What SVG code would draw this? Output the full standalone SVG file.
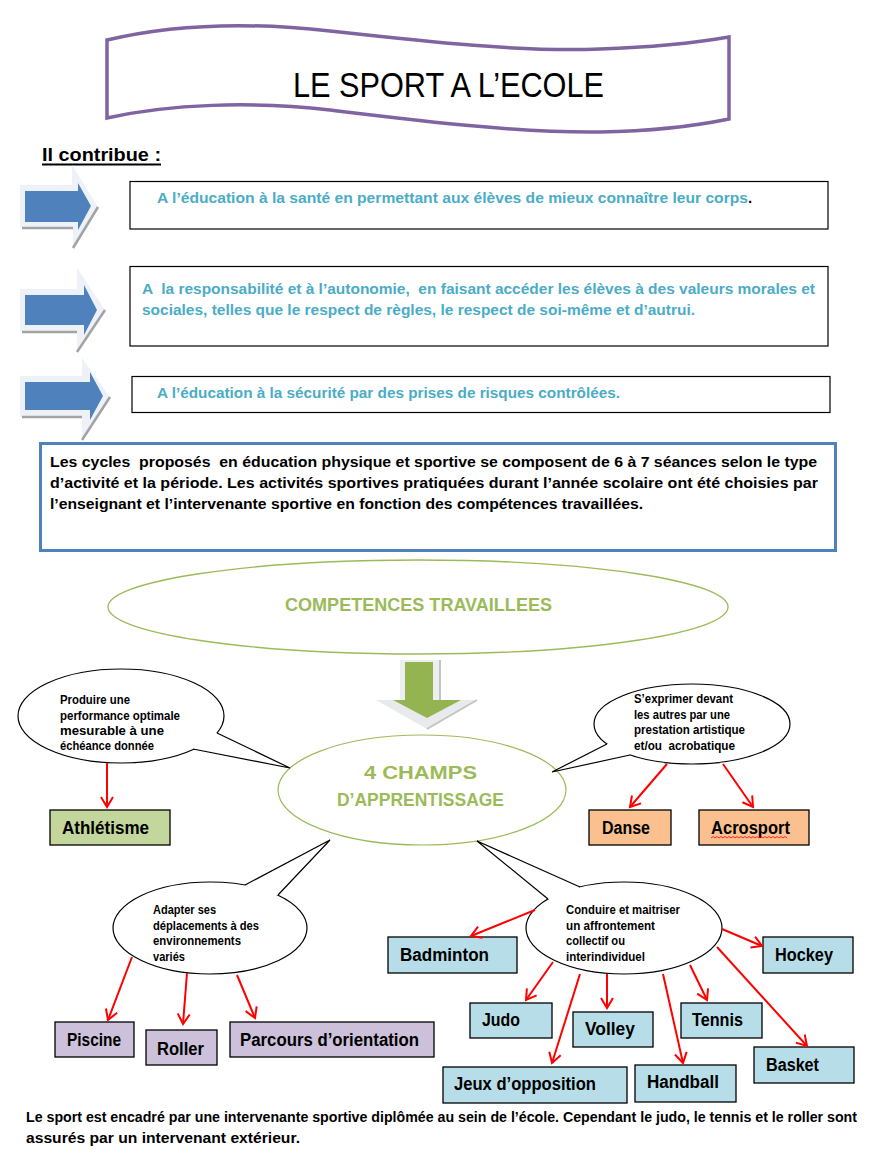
<svg xmlns="http://www.w3.org/2000/svg" width="872" height="1164" viewBox="0 0 872 1164">
<style>
text{font-family:"Liberation Sans",Arial,sans-serif;font-weight:bold;}
.teal{fill:#4bacc6;font-size:15px;}
.blk{fill:#000;font-size:15px;}
.bub{fill:#000;font-size:12.5px;}
.lbl{fill:#000;font-size:18px;}
.grn{fill:#9bbb59;font-size:19px;}
.box{fill:#fff;stroke:#000;stroke-width:1.2;}
.nb{stroke:#000;stroke-width:1.3;}
.bl{fill:#b7dee8;}
.pu{fill:#ccc0da;}
.pe{fill:#fac090;}
.gr{fill:#c3d69b;}
.bk{fill:#eef2f8;}
.sh{fill:none;stroke:#a3a3a3;stroke-width:2.5;}
.ba{fill:#4f81bd;}
.bubw{fill:#fff;stroke:#000;stroke-width:1.2;}
.red{fill:none;stroke:#ff0000;stroke-width:2;marker-end:url(#ah);}
</style>
<defs>
<marker id="ah" markerUnits="userSpaceOnUse" markerWidth="16" markerHeight="16" refX="11" refY="7" orient="auto" viewBox="0 0 16 14">
<path d="M1,1 L11,7 L1,13" fill="none" stroke="#ff0000" stroke-width="2"/>
</marker>
</defs>
<rect width="872" height="1164" fill="#fff"/>

<g id="title">
<path d="M107,40 C170,25 240,21 330,31 C430,42 520,52 600,49 C660,47 700,42 729,37 L729,119 C700,125 660,131 600,132 C520,133 430,122 330,110 C250,101 170,104 107,118 Z" fill="#fff" stroke="#8064a2" stroke-width="3.5"/>
<text x="293" y="97" style="font-weight:normal;font-size:35px" fill="#000" textLength="311" lengthAdjust="spacingAndGlyphs">LE SPORT A L’ECOLE</text>
</g>

<g id="contribue">
<text x="42" y="161" style="font-size:19px" fill="#000" textLength="119" lengthAdjust="spacingAndGlyphs">Il contribue :</text>
<line x1="42" y1="164.5" x2="161" y2="164.5" stroke="#000" stroke-width="1.8"/>
</g>

<g id="arrow1">
<polygon class="bk" points="20,185 72,185 72,165 98,207 73,248 73,228 20,228"/>
<path class="sh" d="M22,228 L73,228 M98,207 L73,248"/>
<polygon class="ba" points="25,191 78,191 78,183 91,206 78,230 78,222 25,222"/>
</g>
<g id="arrow2">
<polygon class="bk" points="20,289 77,289 77,268 105,310 77,352 77,332 20,332"/>
<path class="sh" d="M22,332 L77,332 M105,310 L77,352"/>
<polygon class="ba" points="25,295 84,295 84,285 97,310 84,335 84,325 25,325"/>
</g>
<g id="arrow3">
<polygon class="bk" points="20,376 82,376 82,358 110,397 82,440 82,417 20,417"/>
<path class="sh" d="M22,417 L82,417 M110,397 L82,440"/>
<polygon class="ba" points="25,382 90,382 90,372 103,396 90,420 90,410 25,410"/>
</g>

<g id="box1">
<rect class="box" x="130" y="181.5" width="698" height="47.5"/>
<text class="teal" x="157" y="203" textLength="591" lengthAdjust="spacingAndGlyphs">A l’éducation à la santé en permettant aux élèves de mieux connaître leur corps</text>
<text class="blk" x="748" y="203">.</text>
</g>
<g id="box2">
<rect class="box" x="130" y="266.5" width="698" height="79.5"/>
<text class="teal" x="142" y="294" xml:space="preserve" textLength="673" lengthAdjust="spacingAndGlyphs">A  la responsabilité et à l’autonomie,  en faisant accéder les élèves à des valeurs morales et</text>
<text class="teal" x="142" y="315" textLength="553" lengthAdjust="spacingAndGlyphs">sociales, telles que le respect de règles, le respect de soi-même et d’autrui.</text>
</g>
<g id="box3">
<rect class="box" x="132" y="376.5" width="698" height="36"/>
<text class="teal" x="157" y="398" textLength="463" lengthAdjust="spacingAndGlyphs">A l’éducation à la sécurité par des prises de risques contrôlées.</text>
</g>
<g id="box4">
<rect x="40.5" y="443.5" width="795" height="107" fill="#fff" stroke="#4f81bd" stroke-width="3"/>
<text class="blk" x="50" y="467" xml:space="preserve" textLength="767" lengthAdjust="spacingAndGlyphs">Les cycles  proposés  en éducation physique et sportive se composent de 6 à 7 séances selon le type</text>
<text class="blk" x="50" y="488" textLength="768" lengthAdjust="spacingAndGlyphs">d’activité et la période. Les activités sportives pratiquées durant l’année scolaire ont été choisies par</text>
<text class="blk" x="50" y="509" textLength="593" lengthAdjust="spacingAndGlyphs">l’enseignant et l’intervenante sportive en fonction des compétences travaillées.</text>
</g>

<g id="competences">
<ellipse cx="418" cy="607" rx="310" ry="47" fill="#fff" stroke="#9bbb59" stroke-width="1.3"/>
<text class="grn" x="285" y="611" textLength="267" lengthAdjust="spacingAndGlyphs">COMPETENCES TRAVAILLEES</text>
</g>

<g id="downarrow">
<rect x="400" y="660" width="40" height="42" fill="#eceff1"/>
<polygon points="376,700 477,700 427,729" fill="#e8eaec"/>
<path d="M440,660 L440,700 M477,700 L427,729" fill="none" stroke="#c4c4c4" stroke-width="2"/>
<rect x="405" y="662" width="28" height="40" fill="#93b451"/>
<polygon points="393,700 461,700 427,718" fill="#93b451"/>
</g>

<g id="champs">
<ellipse cx="422" cy="790" rx="144" ry="55" fill="#fff" stroke="#9bbb59" stroke-width="1.2"/>
<text class="grn" x="364" y="779" textLength="113" lengthAdjust="spacingAndGlyphs">4 CHAMPS</text>
<text class="grn" x="337" y="806" textLength="167" lengthAdjust="spacingAndGlyphs">D’APPRENTISSAGE</text>
</g>

<g id="bubble1">
<ellipse class="bubw" cx="121" cy="716" rx="103" ry="47"/>
<polygon points="217,733 290,768 193,749 200,735" fill="#fff"/>
<polyline points="217,733 290,768 193,749" fill="none" stroke="#000" stroke-width="1.2"/>
<text class="bub" x="60" y="704" textLength="70" lengthAdjust="spacingAndGlyphs">Produire une</text>
<text class="bub" x="60" y="720" textLength="120" lengthAdjust="spacingAndGlyphs">performance optimale</text>
<text class="bub" x="60" y="735" textLength="104" lengthAdjust="spacingAndGlyphs">mesurable à une</text>
<text class="bub" x="60" y="750" textLength="94" lengthAdjust="spacingAndGlyphs">échéance donnée</text>
</g>

<g id="bubble2">
<ellipse class="bubw" cx="692" cy="724" rx="98" ry="40"/>
<polygon points="607,744 552,772 630,755 625,742" fill="#fff"/>
<polyline points="607,744 552,772 630,755" fill="none" stroke="#000" stroke-width="1.2"/>
<text class="bub" x="634" y="703" textLength="99" lengthAdjust="spacingAndGlyphs">S’exprimer devant</text>
<text class="bub" x="634" y="719" textLength="96" lengthAdjust="spacingAndGlyphs">les autres par une</text>
<text class="bub" x="634" y="734" textLength="111" lengthAdjust="spacingAndGlyphs">prestation artistique</text>
<text class="bub" x="634" y="750" xml:space="preserve" textLength="101" lengthAdjust="spacingAndGlyphs">et/ou  acrobatique</text>
</g>

<g id="bubble3">
<ellipse class="bubw" cx="210" cy="928" rx="97" ry="46"/>
<polygon points="245,885 330,840 278,895 262,900" fill="#fff"/>
<polyline points="245,885 330,840 278,895" fill="none" stroke="#000" stroke-width="1.2"/>
<text class="bub" x="153" y="914" textLength="63" lengthAdjust="spacingAndGlyphs">Adapter ses</text>
<text class="bub" x="153" y="930" textLength="106" lengthAdjust="spacingAndGlyphs">déplacements à des</text>
<text class="bub" x="153" y="945" textLength="88" lengthAdjust="spacingAndGlyphs">environnements</text>
<text class="bub" x="153" y="961" textLength="32" lengthAdjust="spacingAndGlyphs">variés</text>
</g>

<g id="bubble4">
<ellipse class="bubw" cx="624" cy="928" rx="98" ry="46"/>
<polygon points="548,899 477,841 580,887 565,900" fill="#fff"/>
<polyline points="548,899 477,841 580,887" fill="none" stroke="#000" stroke-width="1.2"/>
<text class="bub" x="566" y="914" textLength="114" lengthAdjust="spacingAndGlyphs">Conduire et maitriser</text>
<text class="bub" x="566" y="930" textLength="89" lengthAdjust="spacingAndGlyphs">un affrontement</text>
<text class="bub" x="566" y="945" textLength="59" lengthAdjust="spacingAndGlyphs">collectif ou</text>
<text class="bub" x="566" y="961" textLength="79" lengthAdjust="spacingAndGlyphs">interindividuel</text>
</g>

<g id="athletisme"><rect class="gr nb" x="50" y="810" width="120" height="35"/><text class="lbl" x="62" y="834" textLength="87" lengthAdjust="spacingAndGlyphs">Athlétisme</text></g>
<g id="danse"><rect class="pe nb" x="589" y="810" width="82" height="35"/><text class="lbl" x="602" y="834" textLength="48" lengthAdjust="spacingAndGlyphs">Danse</text></g>
<g id="acrosport"><rect class="pe nb" x="699" y="810" width="110" height="35"/><text class="lbl" x="711" y="834" textLength="79" lengthAdjust="spacingAndGlyphs">Acrosport</text>
<path d="M711,838 l2,-1.5 l2,1.5 l2,-1.5 l2,1.5 l2,-1.5 l2,1.5 l2,-1.5 l2,1.5 l2,-1.5 l2,1.5 l2,-1.5 l2,1.5 l2,-1.5 l2,1.5 l2,-1.5 l2,1.5 l2,-1.5 l2,1.5 l2,-1.5 l2,1.5 l2,-1.5 l2,1.5 l2,-1.5 l2,1.5 l2,-1.5 l2,1.5 l2,-1.5 l2,1.5 l2,-1.5 l2,1.5 l2,-1.5 l2,1.5 l2,-1.5 l2,1.5 l2,-1.5 l2,1.5 l2,-1.5 l2,1.5" fill="none" stroke="#ff0000" stroke-width="0.8"/></g>
<g id="piscine"><rect class="pu nb" x="55" y="1022" width="79" height="35"/><text class="lbl" x="67" y="1046" textLength="54" lengthAdjust="spacingAndGlyphs">Piscine</text></g>
<g id="roller"><rect class="pu nb" x="146" y="1030" width="71" height="35"/><text class="lbl" x="157" y="1055" textLength="47" lengthAdjust="spacingAndGlyphs">Roller</text></g>
<g id="parcours"><rect class="pu nb" x="230" y="1022" width="204" height="35"/><text class="lbl" x="240" y="1046" textLength="179" lengthAdjust="spacingAndGlyphs">Parcours d’orientation</text></g>
<g id="badminton"><rect class="bl nb" x="388" y="937" width="129" height="36"/><text class="lbl" x="400" y="961" textLength="89" lengthAdjust="spacingAndGlyphs">Badminton</text></g>
<g id="hockey"><rect class="bl nb" x="763" y="937" width="90" height="36"/><text class="lbl" x="775" y="961" textLength="58" lengthAdjust="spacingAndGlyphs">Hockey</text></g>
<g id="judo"><rect class="bl nb" x="470" y="1003" width="82" height="35"/><text class="lbl" x="482" y="1026" textLength="38" lengthAdjust="spacingAndGlyphs">Judo</text></g>
<g id="volley"><rect class="bl nb" x="573" y="1012" width="80" height="35"/><text class="lbl" x="585" y="1035" textLength="50" lengthAdjust="spacingAndGlyphs">Volley</text></g>
<g id="tennis"><rect class="bl nb" x="681" y="1003" width="81" height="35"/><text class="lbl" x="692" y="1026" textLength="51" lengthAdjust="spacingAndGlyphs">Tennis</text></g>
<g id="basket"><rect class="bl nb" x="754" y="1047" width="100" height="36"/><text class="lbl" x="766" y="1071" textLength="53" lengthAdjust="spacingAndGlyphs">Basket</text></g>
<g id="jeux"><rect class="bl nb" x="443" y="1067" width="184" height="36"/><text class="lbl" x="454" y="1090" textLength="142" lengthAdjust="spacingAndGlyphs">Jeux d’opposition</text></g>
<g id="handball"><rect class="bl nb" x="635" y="1065" width="101" height="37"/><text class="lbl" x="647" y="1088" textLength="72" lengthAdjust="spacingAndGlyphs">Handball</text></g>

<g id="connectors">
<line class="red" x1="107" y1="763" x2="107" y2="807"/>
<line class="red" x1="667" y1="764" x2="630" y2="807"/>
<line class="red" x1="723" y1="764" x2="753" y2="807"/>
<line class="red" x1="132" y1="957" x2="108" y2="1020"/>
<line class="red" x1="187" y1="973" x2="183" y2="1024"/>
<line class="red" x1="237" y1="975" x2="255" y2="1018"/>
<line class="red" x1="535" y1="910" x2="471" y2="936"/>
<line class="red" x1="553" y1="962" x2="526" y2="1000"/>
<line class="red" x1="580" y1="974" x2="552" y2="1063"/>
<line class="red" x1="607" y1="974" x2="607" y2="1008"/>
<line class="red" x1="663" y1="974" x2="683" y2="1063"/>
<line class="red" x1="690" y1="965" x2="707" y2="1000"/>
<line class="red" x1="717" y1="947" x2="807" y2="1046"/>
<line class="red" x1="722" y1="929" x2="762" y2="946"/>
</g>

<g id="footer">
<text class="blk" x="26" y="1122" style="font-size:14px" textLength="831" lengthAdjust="spacingAndGlyphs">Le sport est encadré par une intervenante sportive diplômée au sein de l’école. Cependant le judo, le tennis et le roller sont</text>
<text class="blk" x="26" y="1143" style="font-size:14px" textLength="274" lengthAdjust="spacingAndGlyphs">assurés par un intervenant extérieur.</text>
</g>
</svg>
